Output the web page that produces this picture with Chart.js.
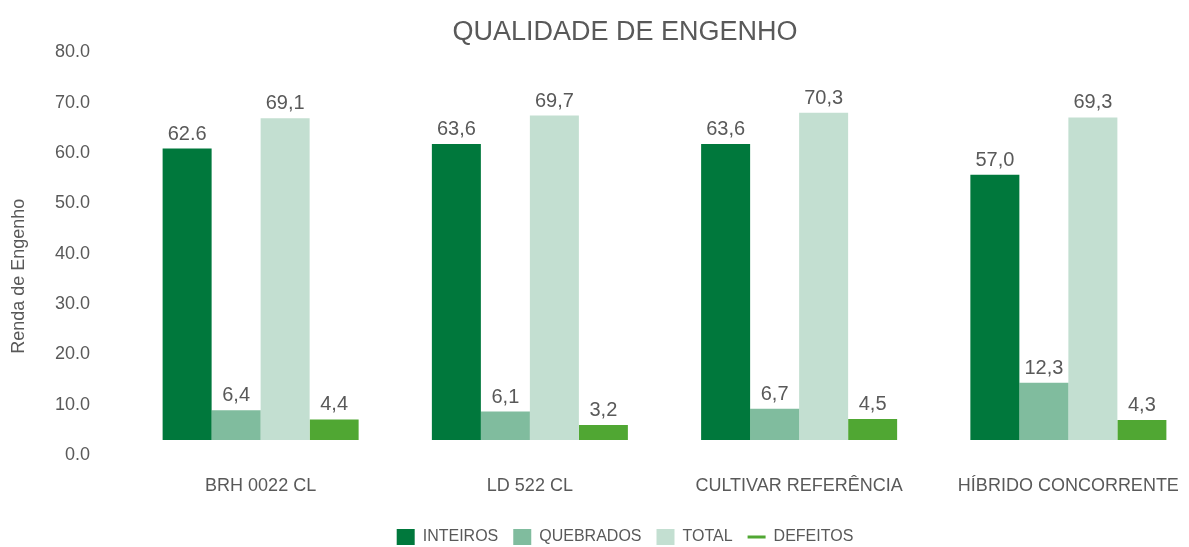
<!DOCTYPE html>
<html>
<head>
<meta charset="utf-8">
<script src="https://cdn.jsdelivr.net/npm/chart.js@4.4.1/dist/chart.umd.min.js"></script>
<style>
  html, body { margin: 0; padding: 0; background: #fff; overflow: hidden; }
  #wrap { width: 1189px; height: 547px; overflow: hidden; position: relative; }
  #box { width: 1246px; height: 555px; position: absolute; left: 0; top: 0; }
</style>
</head>
<body>
<div id="wrap"><div id="box"><canvas id="chart"></canvas></div></div>
<script>
const categories = ['BRH 0022 CL', 'LD 522 CL', 'CULTIVAR REFERÊNCIA', 'HÍBRIDO CONCORRENTE'];
const inteiros = [62.6, 63.6, 63.6, 57.0];
const quebrados = [6.4, 6.1, 6.7, 12.3];
const total = [69.1, 69.7, 70.3, 69.3];
const defeitos = [4.4, 3.2, 4.5, 4.3];
const yTicks = [0, 10, 20, 30, 40, 50, 60, 70, 80];

const textColor = '#595959';
const font = 'Liberation Sans, Arial, Helvetica, sans-serif';

// the first label in the source is written with a dot
function fmt(v, ds, i) {
    if (ds === 0 && i === 0) return v.toFixed(1);
    return v.toFixed(1).replace('.', ',');
}

const valueLabels = {
    id: 'valueLabels',
    afterDatasetsDraw(chart) {
        const ctx = chart.ctx;
        ctx.save();
        ctx.font = '20px ' + font;
        ctx.fillStyle = textColor;
        ctx.textAlign = 'center';
        ctx.textBaseline = 'alphabetic';
        chart.data.datasets.forEach((ds, d) => {
            chart.getDatasetMeta(d).data.forEach((bar, i) => {
                ctx.fillText(fmt(ds.data[i], d, i), bar.x, bar.y - 9);
            });
        });
        ctx.restore();
    }
};

new Chart(document.getElementById('chart'), {
    type: 'bar',
    data: {
        labels: categories,
        datasets: [
            { label: 'INTEIROS', data: inteiros, backgroundColor: '#00783c' },
            { label: 'QUEBRADOS', data: quebrados, backgroundColor: '#80bc9e' },
            { label: 'TOTAL', data: total, backgroundColor: '#c3dfd1' },
            { label: 'DEFEITOS', data: defeitos, backgroundColor: '#50a733' }
        ]
    },
    options: {
        responsive: true,
        maintainAspectRatio: false,
        animation: false,
        layout: { padding: { left: 4, right: 0, top: 0, bottom: 0 } },
        datasets: { bar: { categoryPercentage: 0.728, barPercentage: 1 } },
        scales: {
            x: {
                grid: { display: false, drawTicks: false },
                border: { display: false },
                ticks: { color: textColor, font: { family: font, size: 18 }, padding: 20 },
                afterFit: axis => { axis.height = 59; }
            },
            // bars sit a little above the printed zero in the source
            y: {
                position: 'right',
                min: -3.23,
                max: 83.27,
                grid: { display: false, drawTicks: false },
                border: { display: false },
                ticks: { display: false },
                afterFit: axis => { axis.width = 43; }
            },
            y1: {
                position: 'left',
                min: 0,
                max: 80,
                afterBuildTicks: axis => { axis.ticks = yTicks.map(v => ({ value: v })); },
                grid: { display: false, drawTicks: false },
                border: { display: false },
                ticks: {
                    color: textColor,
                    font: { family: font, size: 18 },
                    padding: 36,
                    callback: v => v.toFixed(1)
                },
                title: {
                    display: true,
                    // trailing spaces push the text a bit below the axis middle, as in the source
                    text: 'Renda de Engenho         ',
                    color: textColor,
                    font: { family: font, size: 18 },
                    padding: { top: 4, bottom: 0 }
                },
                afterFit: axis => { axis.width = 122; }
            }
        },
        plugins: {
            title: {
                display: true,
                text: 'QUALIDADE DE ENGENHO',
                color: textColor,
                font: { family: font, size: 27, weight: 'normal' },
                padding: { top: 16, bottom: 4 }
            },
            legend: {
                position: 'bottom',
                labels: {
                    color: textColor,
                    font: { family: font, size: 16 },
                    usePointStyle: true,
                    pointStyleWidth: 18,
                    boxHeight: 18,
                    padding: 15,
                    generateLabels(chart) {
                        const items = Chart.defaults.plugins.legend.labels.generateLabels(chart);
                        items.forEach(it => {
                            if (it.text === 'DEFEITOS') {
                                it.pointStyle = 'line';
                                it.strokeStyle = '#50a733';
                                it.lineWidth = 3;
                            } else {
                                it.pointStyle = 'rect';
                                it.lineWidth = 0;
                            }
                        });
                        return items;
                    }
                }
            },
            tooltip: { enabled: false }
        }
    },
    plugins: [valueLabels]
});
</script>
</body>
</html>
